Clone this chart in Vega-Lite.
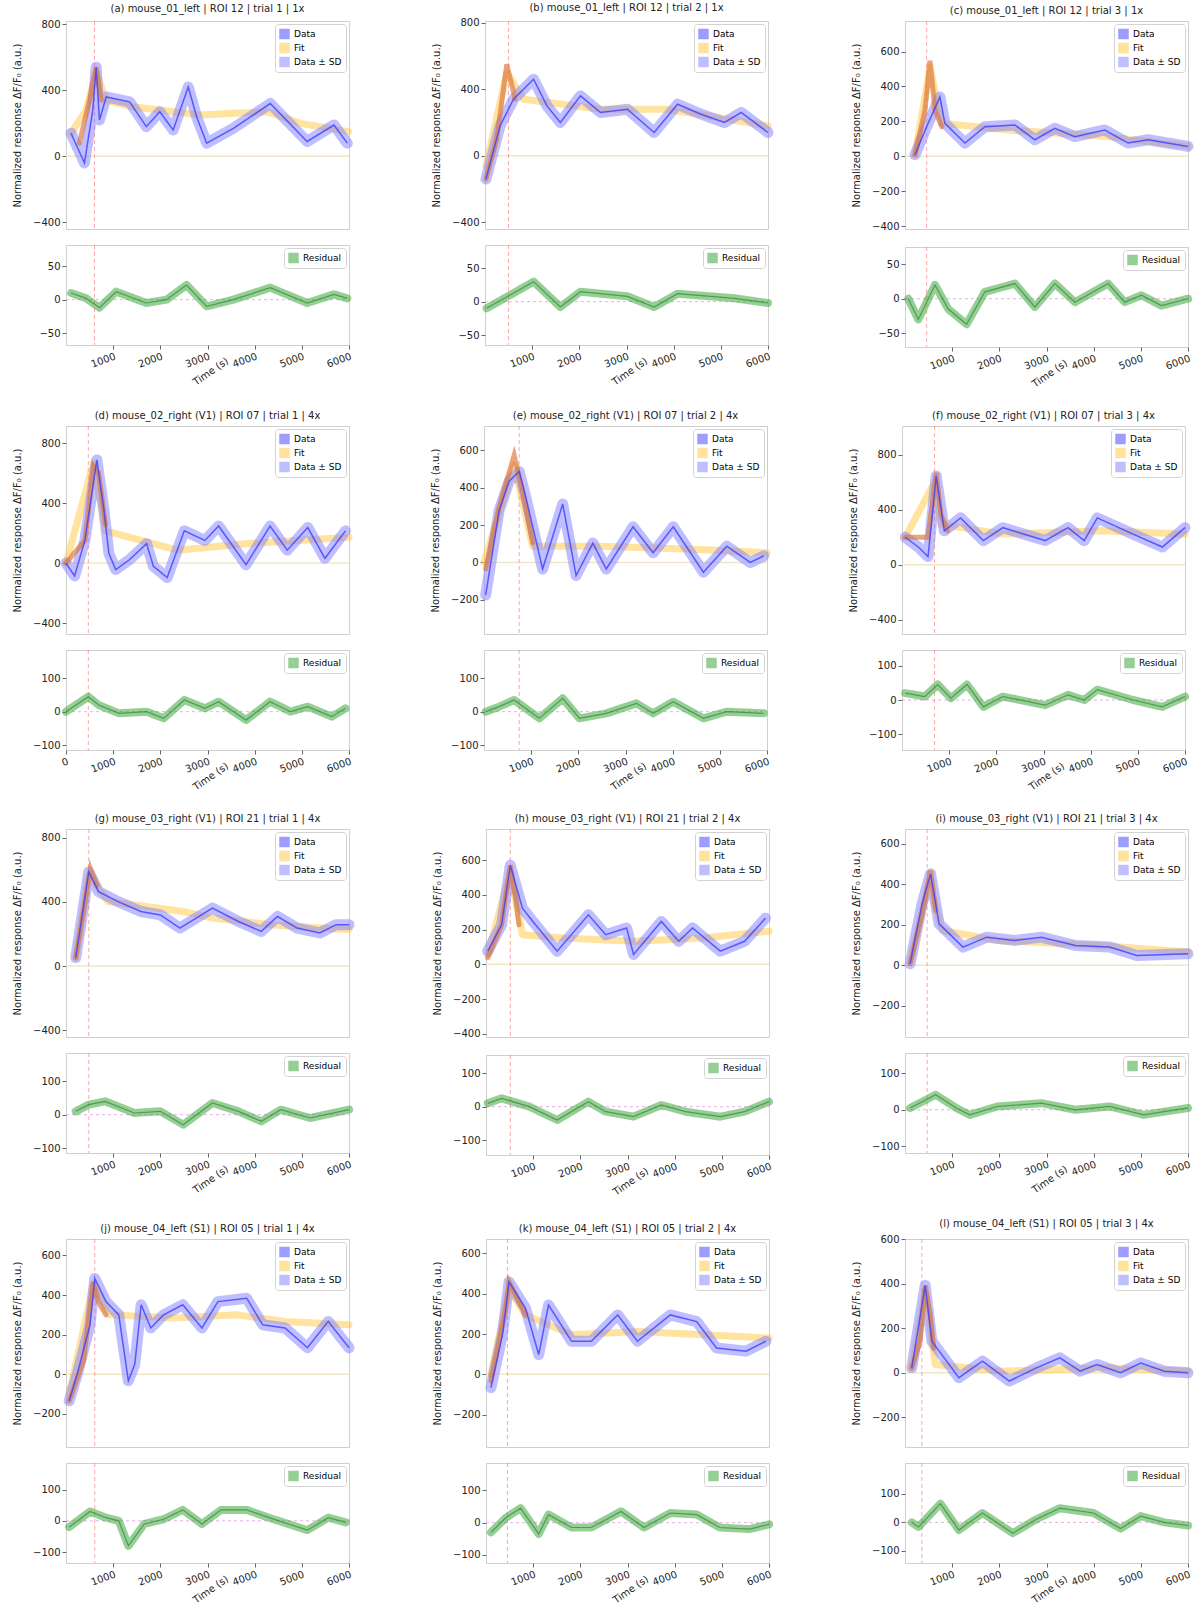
{
"$schema":"https://vega.github.io/schema/vega-lite/v6.json",
"padding":{"left":11,"top":2,"right":0,"bottom":0},
"config":{"font":"DejaVu Sans","view":{"stroke":"#cfcfcf"},
"axis":{"labelFontSize":10,"labelColor":"#222","tickColor":"#666","tickSize":4,"domain":false,"grid":false,"titleFontSize":10,"titleFontWeight":"normal","titleColor":"#222"},
"axisY":{"minExtent":42,"maxExtent":42,"titlePadding":2},
"title":{"fontSize":10,"fontWeight":"normal","color":"#222","offset":5},
"legend":{"orient":"top-right","symbolType":"square","symbolSize":30,"symbolStrokeWidth":5,"labelFontSize":9,"fillColor":"#ffffff","strokeColor":"#d3d3d3","padding":4,"cornerRadius":3,"offset":3,"rowPadding":2,"clipHeight":12}},
"datasets":{"d":[
{"p":1,"s":"evt","t":604,"v":0},
{"p":1,"s":"obs","t":107,"v":140},{"p":1,"s":"obs","t":391,"v":-40},{"p":1,"s":"obs","t":568,"v":280},{"p":1,"s":"obs","t":639,"v":540},{"p":1,"s":"obs","t":710,"v":220},{"p":1,"s":"obs","t":852,"v":360},{"p":1,"s":"obs","t":1349,"v":330},{"p":1,"s":"obs","t":1704,"v":180},{"p":1,"s":"obs","t":1988,"v":270},{"p":1,"s":"obs","t":2272,"v":160},{"p":1,"s":"obs","t":2592,"v":420},{"p":1,"s":"obs","t":2769,"v":240},{"p":1,"s":"obs","t":2982,"v":80},{"p":1,"s":"obs","t":3550,"v":170},{"p":1,"s":"obs","t":4331,"v":320},{"p":1,"s":"obs","t":5112,"v":90},{"p":1,"s":"obs","t":5680,"v":190},{"p":1,"s":"obs","t":5964,"v":80},
{"p":1,"s":"fit","t":107,"v":140},{"p":1,"s":"fit","t":426,"v":280},{"p":1,"s":"fit","t":639,"v":510},{"p":1,"s":"fit","t":852,"v":340},{"p":1,"s":"fit","t":1420,"v":300},{"p":1,"s":"fit","t":2840,"v":250},{"p":1,"s":"fit","t":4260,"v":270},{"p":1,"s":"fit","t":4970,"v":200},{"p":1,"s":"fit","t":5990,"v":150},
{"p":1,"s":"rise","t":284,"v":80},{"p":1,"s":"rise","t":497,"v":340},{"p":1,"s":"rise","t":639,"v":540},{"p":1,"s":"rise","t":746,"v":340},
{"p":1,"s":"res","t":107,"v":10},{"p":1,"s":"res","t":426,"v":2},{"p":1,"s":"res","t":710,"v":-12},{"p":1,"s":"res","t":1065,"v":12},{"p":1,"s":"res","t":1704,"v":-5},{"p":1,"s":"res","t":2130,"v":0},{"p":1,"s":"res","t":2556,"v":22},{"p":1,"s":"res","t":2982,"v":-10},{"p":1,"s":"res","t":3550,"v":0},{"p":1,"s":"res","t":4331,"v":18},{"p":1,"s":"res","t":5112,"v":-5},{"p":1,"s":"res","t":5680,"v":8},{"p":1,"s":"res","t":5964,"v":2},
{"p":2,"s":"evt","t":497,"v":0},
{"p":2,"s":"obs","t":21,"v":-140},{"p":2,"s":"obs","t":320,"v":180},{"p":2,"s":"obs","t":604,"v":340},{"p":2,"s":"obs","t":1030,"v":460},{"p":2,"s":"obs","t":1314,"v":300},{"p":2,"s":"obs","t":1598,"v":200},{"p":2,"s":"obs","t":2024,"v":360},{"p":2,"s":"obs","t":2450,"v":260},{"p":2,"s":"obs","t":3018,"v":280},{"p":2,"s":"obs","t":3586,"v":140},{"p":2,"s":"obs","t":4083,"v":310},{"p":2,"s":"obs","t":4580,"v":250},{"p":2,"s":"obs","t":5077,"v":200},{"p":2,"s":"obs","t":5432,"v":260},{"p":2,"s":"obs","t":6000,"v":140},
{"p":2,"s":"fit","t":21,"v":-60},{"p":2,"s":"fit","t":462,"v":500},{"p":2,"s":"fit","t":817,"v":340},{"p":2,"s":"fit","t":2450,"v":280},{"p":2,"s":"fit","t":3870,"v":280},{"p":2,"s":"fit","t":6000,"v":180},
{"p":2,"s":"rise","t":21,"v":-140},{"p":2,"s":"rise","t":249,"v":100},{"p":2,"s":"rise","t":462,"v":550},{"p":2,"s":"rise","t":639,"v":340},
{"p":2,"s":"res","t":36,"v":-10},{"p":2,"s":"res","t":533,"v":10},{"p":2,"s":"res","t":1030,"v":30},{"p":2,"s":"res","t":1598,"v":-8},{"p":2,"s":"res","t":2024,"v":15},{"p":2,"s":"res","t":3018,"v":8},{"p":2,"s":"res","t":3586,"v":-8},{"p":2,"s":"res","t":4083,"v":12},{"p":2,"s":"res","t":5290,"v":5},{"p":2,"s":"res","t":6000,"v":-2},
{"p":3,"s":"evt","t":459,"v":0},
{"p":3,"s":"obs","t":212,"v":9},{"p":3,"s":"obs","t":459,"v":170},{"p":3,"s":"obs","t":741,"v":340},{"p":3,"s":"obs","t":847,"v":189},{"p":3,"s":"obs","t":1271,"v":76},{"p":3,"s":"obs","t":1694,"v":170},{"p":3,"s":"obs","t":2330,"v":180},{"p":3,"s":"obs","t":2753,"v":95},{"p":3,"s":"obs","t":3177,"v":161},{"p":3,"s":"obs","t":3601,"v":113},{"p":3,"s":"obs","t":4236,"v":151},{"p":3,"s":"obs","t":4730,"v":76},{"p":3,"s":"obs","t":5154,"v":95},{"p":3,"s":"obs","t":6000,"v":57},
{"p":3,"s":"fit","t":212,"v":9},{"p":3,"s":"fit","t":530,"v":510},{"p":3,"s":"fit","t":777,"v":189},{"p":3,"s":"fit","t":2189,"v":151},{"p":3,"s":"fit","t":4307,"v":113},{"p":3,"s":"fit","t":6000,"v":57},
{"p":3,"s":"rise","t":212,"v":9},{"p":3,"s":"rise","t":424,"v":265},{"p":3,"s":"rise","t":530,"v":548},{"p":3,"s":"rise","t":635,"v":265},{"p":3,"s":"rise","t":777,"v":170},
{"p":3,"s":"res","t":71,"v":0},{"p":3,"s":"res","t":282,"v":-30},{"p":3,"s":"res","t":635,"v":20},{"p":3,"s":"res","t":918,"v":-15},{"p":3,"s":"res","t":1306,"v":-37},{"p":3,"s":"res","t":1694,"v":10},{"p":3,"s":"res","t":2330,"v":22},{"p":3,"s":"res","t":2753,"v":-12},{"p":3,"s":"res","t":3177,"v":22},{"p":3,"s":"res","t":3601,"v":-5},{"p":3,"s":"res","t":4307,"v":22},{"p":3,"s":"res","t":4659,"v":-5},{"p":3,"s":"res","t":5013,"v":5},{"p":3,"s":"res","t":5436,"v":-10},{"p":3,"s":"res","t":6000,"v":0},
{"p":4,"s":"evt","t":473,"v":0},
{"p":4,"s":"obs","t":0,"v":0},{"p":4,"s":"obs","t":182,"v":-86},{"p":4,"s":"obs","t":400,"v":151},{"p":4,"s":"obs","t":654,"v":688},{"p":4,"s":"obs","t":800,"v":366},{"p":4,"s":"obs","t":909,"v":65},{"p":4,"s":"obs","t":1054,"v":-43},{"p":4,"s":"obs","t":1345,"v":22},{"p":4,"s":"obs","t":1709,"v":129},{"p":4,"s":"obs","t":1854,"v":-22},{"p":4,"s":"obs","t":2145,"v":-97},{"p":4,"s":"obs","t":2508,"v":215},{"p":4,"s":"obs","t":2945,"v":151},{"p":4,"s":"obs","t":3236,"v":247},{"p":4,"s":"obs","t":3817,"v":-11},{"p":4,"s":"obs","t":4326,"v":247},{"p":4,"s":"obs","t":4690,"v":86},{"p":4,"s":"obs","t":5126,"v":237},{"p":4,"s":"obs","t":5490,"v":32},{"p":4,"s":"obs","t":5925,"v":215},
{"p":4,"s":"fit","t":0,"v":0},{"p":4,"s":"fit","t":582,"v":667},{"p":4,"s":"fit","t":836,"v":215},{"p":4,"s":"fit","t":2363,"v":86},{"p":4,"s":"fit","t":3817,"v":129},{"p":4,"s":"fit","t":6000,"v":172},
{"p":4,"s":"rise","t":0,"v":0},{"p":4,"s":"rise","t":400,"v":151},{"p":4,"s":"rise","t":582,"v":645},{"p":4,"s":"rise","t":691,"v":602},{"p":4,"s":"rise","t":836,"v":258},
{"p":4,"s":"res","t":0,"v":0},{"p":4,"s":"res","t":473,"v":45},{"p":4,"s":"res","t":691,"v":20},{"p":4,"s":"res","t":1127,"v":-5},{"p":4,"s":"res","t":1709,"v":0},{"p":4,"s":"res","t":2072,"v":-20},{"p":4,"s":"res","t":2508,"v":35},{"p":4,"s":"res","t":2945,"v":10},{"p":4,"s":"res","t":3236,"v":30},{"p":4,"s":"res","t":3817,"v":-25},{"p":4,"s":"res","t":4326,"v":30},{"p":4,"s":"res","t":4762,"v":0},{"p":4,"s":"res","t":5126,"v":15},{"p":4,"s":"res","t":5635,"v":-15},{"p":4,"s":"res","t":5925,"v":10},
{"p":5,"s":"evt","t":746,"v":0},
{"p":5,"s":"obs","t":36,"v":-174},{"p":5,"s":"obs","t":320,"v":278},{"p":5,"s":"obs","t":533,"v":435},{"p":5,"s":"obs","t":746,"v":487},{"p":5,"s":"obs","t":888,"v":348},{"p":5,"s":"obs","t":1243,"v":-35},{"p":5,"s":"obs","t":1669,"v":313},{"p":5,"s":"obs","t":1953,"v":-70},{"p":5,"s":"obs","t":2308,"v":104},{"p":5,"s":"obs","t":2592,"v":-35},{"p":5,"s":"obs","t":3160,"v":191},{"p":5,"s":"obs","t":3586,"v":52},{"p":5,"s":"obs","t":4012,"v":191},{"p":5,"s":"obs","t":4651,"v":-52},{"p":5,"s":"obs","t":5148,"v":87},{"p":5,"s":"obs","t":5645,"v":0},{"p":5,"s":"obs","t":5929,"v":35},
{"p":5,"s":"fit","t":0,"v":0},{"p":5,"s":"fit","t":639,"v":522},{"p":5,"s":"fit","t":1030,"v":87},{"p":5,"s":"fit","t":2450,"v":87},{"p":5,"s":"fit","t":4580,"v":70},{"p":5,"s":"fit","t":6000,"v":52},
{"p":5,"s":"rise","t":36,"v":-35},{"p":5,"s":"rise","t":320,"v":296},{"p":5,"s":"rise","t":639,"v":574},{"p":5,"s":"rise","t":817,"v":383},{"p":5,"s":"rise","t":1030,"v":104},
{"p":5,"s":"res","t":36,"v":0},{"p":5,"s":"res","t":320,"v":15},{"p":5,"s":"res","t":639,"v":35},{"p":5,"s":"res","t":1172,"v":-20},{"p":5,"s":"res","t":1669,"v":40},{"p":5,"s":"res","t":2024,"v":-20},{"p":5,"s":"res","t":2592,"v":-5},{"p":5,"s":"res","t":3231,"v":25},{"p":5,"s":"res","t":3586,"v":-5},{"p":5,"s":"res","t":4012,"v":30},{"p":5,"s":"res","t":4651,"v":-20},{"p":5,"s":"res","t":5148,"v":0},{"p":5,"s":"res","t":5929,"v":-5},
{"p":6,"s":"evt","t":690,"v":0},
{"p":6,"s":"obs","t":69,"v":200},{"p":6,"s":"obs","t":345,"v":129},{"p":6,"s":"obs","t":552,"v":59},{"p":6,"s":"obs","t":725,"v":646},{"p":6,"s":"obs","t":897,"v":247},{"p":6,"s":"obs","t":1242,"v":341},{"p":6,"s":"obs","t":1725,"v":176},{"p":6,"s":"obs","t":2139,"v":270},{"p":6,"s":"obs","t":3036,"v":176},{"p":6,"s":"obs","t":3519,"v":270},{"p":6,"s":"obs","t":3864,"v":176},{"p":6,"s":"obs","t":4140,"v":341},{"p":6,"s":"obs","t":4899,"v":223},{"p":6,"s":"obs","t":5520,"v":129},{"p":6,"s":"obs","t":6000,"v":270},
{"p":6,"s":"fit","t":69,"v":200},{"p":6,"s":"fit","t":690,"v":600},{"p":6,"s":"fit","t":828,"v":294},{"p":6,"s":"fit","t":2139,"v":223},{"p":6,"s":"fit","t":4209,"v":247},{"p":6,"s":"fit","t":6000,"v":223},
{"p":6,"s":"rise","t":69,"v":200},{"p":6,"s":"rise","t":552,"v":200},{"p":6,"s":"rise","t":656,"v":482},{"p":6,"s":"rise","t":725,"v":670},{"p":6,"s":"rise","t":828,"v":364},{"p":6,"s":"rise","t":966,"v":247},
{"p":6,"s":"res","t":69,"v":20},{"p":6,"s":"res","t":483,"v":10},{"p":6,"s":"res","t":759,"v":45},{"p":6,"s":"res","t":1035,"v":5},{"p":6,"s":"res","t":1380,"v":45},{"p":6,"s":"res","t":1725,"v":-20},{"p":6,"s":"res","t":2139,"v":10},{"p":6,"s":"res","t":3036,"v":-15},{"p":6,"s":"res","t":3519,"v":15},{"p":6,"s":"res","t":3864,"v":0},{"p":6,"s":"res","t":4140,"v":30},{"p":6,"s":"res","t":4899,"v":0},{"p":6,"s":"res","t":5520,"v":-20},{"p":6,"s":"res","t":6000,"v":10},
{"p":7,"s":"evt","t":483,"v":0},
{"p":7,"s":"obs","t":207,"v":52},{"p":7,"s":"obs","t":483,"v":587},{"p":7,"s":"obs","t":690,"v":464},{"p":7,"s":"obs","t":1104,"v":402},{"p":7,"s":"obs","t":1587,"v":340},{"p":7,"s":"obs","t":2001,"v":319},{"p":7,"s":"obs","t":2415,"v":237},{"p":7,"s":"obs","t":3105,"v":361},{"p":7,"s":"obs","t":3657,"v":278},{"p":7,"s":"obs","t":4140,"v":216},{"p":7,"s":"obs","t":4485,"v":309},{"p":7,"s":"obs","t":4899,"v":237},{"p":7,"s":"obs","t":5382,"v":206},{"p":7,"s":"obs","t":5727,"v":258},{"p":7,"s":"obs","t":6000,"v":258},
{"p":7,"s":"fit","t":207,"v":52},{"p":7,"s":"fit","t":483,"v":567},{"p":7,"s":"fit","t":897,"v":402},{"p":7,"s":"fit","t":2484,"v":340},{"p":7,"s":"fit","t":3105,"v":299},{"p":7,"s":"fit","t":4347,"v":258},{"p":7,"s":"fit","t":6000,"v":227},
{"p":7,"s":"rise","t":207,"v":52},{"p":7,"s":"rise","t":414,"v":422},{"p":7,"s":"rise","t":518,"v":608},{"p":7,"s":"rise","t":656,"v":505},
{"p":7,"s":"res","t":207,"v":10},{"p":7,"s":"res","t":483,"v":30},{"p":7,"s":"res","t":828,"v":40},{"p":7,"s":"res","t":1449,"v":5},{"p":7,"s":"res","t":2001,"v":10},{"p":7,"s":"res","t":2484,"v":-30},{"p":7,"s":"res","t":3105,"v":35},{"p":7,"s":"res","t":3657,"v":10},{"p":7,"s":"res","t":4140,"v":-20},{"p":7,"s":"res","t":4554,"v":15},{"p":7,"s":"res","t":5175,"v":-10},{"p":7,"s":"res","t":6000,"v":15},
{"p":8,"s":"evt","t":515,"v":0},
{"p":8,"s":"obs","t":37,"v":76},{"p":8,"s":"obs","t":331,"v":228},{"p":8,"s":"obs","t":515,"v":570},{"p":8,"s":"obs","t":773,"v":323},{"p":8,"s":"obs","t":994,"v":247},{"p":8,"s":"obs","t":1509,"v":76},{"p":8,"s":"obs","t":2171,"v":285},{"p":8,"s":"obs","t":2539,"v":171},{"p":8,"s":"obs","t":2981,"v":209},{"p":8,"s":"obs","t":3128,"v":57},{"p":8,"s":"obs","t":3717,"v":247},{"p":8,"s":"obs","t":4085,"v":133},{"p":8,"s":"obs","t":4379,"v":209},{"p":8,"s":"obs","t":4968,"v":76},{"p":8,"s":"obs","t":5483,"v":133},{"p":8,"s":"obs","t":5925,"v":266},
{"p":8,"s":"fit","t":37,"v":57},{"p":8,"s":"fit","t":515,"v":532},{"p":8,"s":"fit","t":773,"v":171},{"p":8,"s":"fit","t":1656,"v":152},{"p":8,"s":"fit","t":3128,"v":133},{"p":8,"s":"fit","t":4600,"v":152},{"p":8,"s":"fit","t":6000,"v":190},
{"p":8,"s":"rise","t":37,"v":38},{"p":8,"s":"rise","t":331,"v":228},{"p":8,"s":"rise","t":515,"v":570},{"p":8,"s":"rise","t":626,"v":380},{"p":8,"s":"rise","t":700,"v":228},
{"p":8,"s":"res","t":37,"v":10},{"p":8,"s":"res","t":331,"v":25},{"p":8,"s":"res","t":920,"v":0},{"p":8,"s":"res","t":1509,"v":-40},{"p":8,"s":"res","t":2171,"v":15},{"p":8,"s":"res","t":2539,"v":-15},{"p":8,"s":"res","t":3128,"v":-30},{"p":8,"s":"res","t":3717,"v":5},{"p":8,"s":"res","t":4232,"v":-15},{"p":8,"s":"res","t":4968,"v":-30},{"p":8,"s":"res","t":5483,"v":-15},{"p":8,"s":"res","t":6000,"v":15},
{"p":9,"s":"evt","t":470,"v":0},
{"p":9,"s":"obs","t":108,"v":8},{"p":9,"s":"obs","t":362,"v":303},{"p":9,"s":"obs","t":542,"v":451},{"p":9,"s":"obs","t":723,"v":205},{"p":9,"s":"obs","t":1229,"v":90},{"p":9,"s":"obs","t":1735,"v":139},{"p":9,"s":"obs","t":2314,"v":123},{"p":9,"s":"obs","t":2892,"v":139},{"p":9,"s":"obs","t":3615,"v":98},{"p":9,"s":"obs","t":4338,"v":90},{"p":9,"s":"obs","t":4916,"v":49},{"p":9,"s":"obs","t":6000,"v":57},
{"p":9,"s":"fit","t":108,"v":16},{"p":9,"s":"fit","t":506,"v":402},{"p":9,"s":"fit","t":795,"v":172},{"p":9,"s":"fit","t":1952,"v":123},{"p":9,"s":"fit","t":4121,"v":98},{"p":9,"s":"fit","t":6000,"v":66},
{"p":9,"s":"rise","t":108,"v":8},{"p":9,"s":"rise","t":362,"v":254},{"p":9,"s":"rise","t":542,"v":467},{"p":9,"s":"rise","t":651,"v":271},
{"p":9,"s":"res","t":108,"v":5},{"p":9,"s":"res","t":651,"v":41},{"p":9,"s":"res","t":1085,"v":5},{"p":9,"s":"res","t":1374,"v":-14},{"p":9,"s":"res","t":1952,"v":9},{"p":9,"s":"res","t":2892,"v":18},{"p":9,"s":"res","t":3615,"v":0},{"p":9,"s":"res","t":4338,"v":9},{"p":9,"s":"res","t":5061,"v":-14},{"p":9,"s":"res","t":6000,"v":5},
{"p":10,"s":"evt","t":610,"v":0},
{"p":10,"s":"obs","t":68,"v":-134},{"p":10,"s":"obs","t":237,"v":0},{"p":10,"s":"obs","t":509,"v":250},{"p":10,"s":"obs","t":610,"v":484},{"p":10,"s":"obs","t":848,"v":367},{"p":10,"s":"obs","t":1119,"v":300},{"p":10,"s":"obs","t":1322,"v":-33},{"p":10,"s":"obs","t":1458,"v":50},{"p":10,"s":"obs","t":1593,"v":351},{"p":10,"s":"obs","t":1797,"v":234},{"p":10,"s":"obs","t":2068,"v":300},{"p":10,"s":"obs","t":2475,"v":351},{"p":10,"s":"obs","t":2882,"v":234},{"p":10,"s":"obs","t":3221,"v":367},{"p":10,"s":"obs","t":3831,"v":384},{"p":10,"s":"obs","t":4170,"v":250},{"p":10,"s":"obs","t":4644,"v":234},{"p":10,"s":"obs","t":5119,"v":134},{"p":10,"s":"obs","t":5560,"v":267},{"p":10,"s":"obs","t":6000,"v":134},
{"p":10,"s":"fit","t":68,"v":-100},{"p":10,"s":"fit","t":576,"v":451},{"p":10,"s":"fit","t":915,"v":300},{"p":10,"s":"fit","t":2271,"v":284},{"p":10,"s":"fit","t":3627,"v":300},{"p":10,"s":"fit","t":4644,"v":267},{"p":10,"s":"fit","t":6000,"v":250},
{"p":10,"s":"rise","t":68,"v":-134},{"p":10,"s":"rise","t":373,"v":67},{"p":10,"s":"rise","t":576,"v":467},{"p":10,"s":"rise","t":678,"v":367},{"p":10,"s":"rise","t":848,"v":300},
{"p":10,"s":"res","t":68,"v":-20},{"p":10,"s":"res","t":509,"v":30},{"p":10,"s":"res","t":848,"v":10},{"p":10,"s":"res","t":1119,"v":0},{"p":10,"s":"res","t":1322,"v":-80},{"p":10,"s":"res","t":1661,"v":-10},{"p":10,"s":"res","t":2068,"v":5},{"p":10,"s":"res","t":2475,"v":35},{"p":10,"s":"res","t":2882,"v":-10},{"p":10,"s":"res","t":3288,"v":35},{"p":10,"s":"res","t":3831,"v":35},{"p":10,"s":"res","t":4305,"v":10},{"p":10,"s":"res","t":5119,"v":-30},{"p":10,"s":"res","t":5560,"v":10},{"p":10,"s":"res","t":5932,"v":-5},
{"p":11,"s":"evt","t":454,"v":0},
{"p":11,"s":"obs","t":105,"v":-66},{"p":11,"s":"obs","t":349,"v":197},{"p":11,"s":"obs","t":489,"v":459},{"p":11,"s":"obs","t":838,"v":328},{"p":11,"s":"obs","t":1117,"v":98},{"p":11,"s":"obs","t":1326,"v":344},{"p":11,"s":"obs","t":1815,"v":164},{"p":11,"s":"obs","t":2233,"v":164},{"p":11,"s":"obs","t":2792,"v":295},{"p":11,"s":"obs","t":3210,"v":164},{"p":11,"s":"obs","t":3908,"v":295},{"p":11,"s":"obs","t":4467,"v":262},{"p":11,"s":"obs","t":4886,"v":131},{"p":11,"s":"obs","t":5514,"v":115},{"p":11,"s":"obs","t":5933,"v":164},
{"p":11,"s":"fit","t":105,"v":0},{"p":11,"s":"fit","t":489,"v":426},{"p":11,"s":"fit","t":838,"v":295},{"p":11,"s":"fit","t":1815,"v":197},{"p":11,"s":"fit","t":3210,"v":213},{"p":11,"s":"fit","t":4606,"v":197},{"p":11,"s":"fit","t":6000,"v":180},
{"p":11,"s":"rise","t":105,"v":-33},{"p":11,"s":"rise","t":419,"v":328},{"p":11,"s":"rise","t":489,"v":459},{"p":11,"s":"rise","t":628,"v":394},{"p":11,"s":"rise","t":838,"v":295},
{"p":11,"s":"res","t":105,"v":-30},{"p":11,"s":"res","t":419,"v":15},{"p":11,"s":"res","t":733,"v":45},{"p":11,"s":"res","t":1117,"v":-35},{"p":11,"s":"res","t":1326,"v":25},{"p":11,"s":"res","t":1815,"v":-15},{"p":11,"s":"res","t":2233,"v":-15},{"p":11,"s":"res","t":2862,"v":35},{"p":11,"s":"res","t":3350,"v":-15},{"p":11,"s":"res","t":3908,"v":30},{"p":11,"s":"res","t":4467,"v":25},{"p":11,"s":"res","t":4956,"v":-15},{"p":11,"s":"res","t":5584,"v":-20},{"p":11,"s":"res","t":6000,"v":-5},
{"p":12,"s":"evt","t":357,"v":0},
{"p":12,"s":"obs","t":143,"v":22},{"p":12,"s":"obs","t":428,"v":392},{"p":12,"s":"obs","t":571,"v":141},{"p":12,"s":"obs","t":1142,"v":-22},{"p":12,"s":"obs","t":1642,"v":52},{"p":12,"s":"obs","t":2213,"v":-37},{"p":12,"s":"obs","t":2785,"v":22},{"p":12,"s":"obs","t":3284,"v":67},{"p":12,"s":"obs","t":3712,"v":7},{"p":12,"s":"obs","t":4070,"v":37},{"p":12,"s":"obs","t":4570,"v":0},{"p":12,"s":"obs","t":4998,"v":44},{"p":12,"s":"obs","t":5498,"v":7},{"p":12,"s":"obs","t":6000,"v":0},
{"p":12,"s":"fit","t":143,"v":22},{"p":12,"s":"fit","t":428,"v":363},{"p":12,"s":"fit","t":643,"v":37},{"p":12,"s":"fit","t":2071,"v":7},{"p":12,"s":"fit","t":4284,"v":22},{"p":12,"s":"fit","t":6000,"v":7},
{"p":12,"s":"rise","t":143,"v":22},{"p":12,"s":"rise","t":321,"v":141},{"p":12,"s":"rise","t":428,"v":392},{"p":12,"s":"rise","t":535,"v":259},{"p":12,"s":"rise","t":607,"v":111},
{"p":12,"s":"res","t":143,"v":0},{"p":12,"s":"res","t":286,"v":-16},{"p":12,"s":"res","t":750,"v":66},{"p":12,"s":"res","t":1142,"v":-27},{"p":12,"s":"res","t":1642,"v":33},{"p":12,"s":"res","t":2285,"v":-38},{"p":12,"s":"res","t":2785,"v":11},{"p":12,"s":"res","t":3284,"v":50},{"p":12,"s":"res","t":3998,"v":33},{"p":12,"s":"res","t":4570,"v":-22},{"p":12,"s":"res","t":4998,"v":22},{"p":12,"s":"res","t":5498,"v":0},{"p":12,"s":"res","t":6000,"v":-11}
]},
"data":{"name":"d"},
"spacing":20,
"resolve":{"scale":{"color":"independent"},"legend":{"color":"independent"}},
"vconcat":[
{"hconcat":[
{"vconcat":[
{"width":283,"height":208,"title":"(a) mouse_01_left | ROI 12 | trial 1 | 1x","encoding":{"x":{"field":"t","type":"quantitative","scale":{"domain":[0,6000],"nice":false,"zero":false},"axis":null}},"layer":[
{"transform":[{"filter":"datum.p==1&&datum.s=='evt'"}],"mark":{"type":"rule","color":"#efe7c6","strokeWidth":1.5},"encoding":{"x":{"datum":0},"x2":{"datum":6000},"y":{"datum":0,"type":"quantitative","scale":{"domain":[-440,820],"nice":false,"zero":false}}}},
{"transform":[{"filter":"datum.p==1&&datum.s=='evt'"}],"mark":{"type":"rule","color":"#ff6b6b","strokeDash":[4,3],"strokeWidth":1,"opacity":0.6},"encoding":{}},
{"transform":[{"filter":"datum.p==1&&datum.s=='fit'"}],"mark":{"type":"line","strokeWidth":7,"opacity":0.5,"strokeCap":"round","strokeJoin":"round"},"encoding":{"y":{"field":"v","type":"quantitative","scale":{"domain":[-440,820],"nice":false,"zero":false},"axis":{"values":[-400,-200,0,200,400,600,800],"title":"Normalized response ΔF/F₀ (a.u.)"}},"color":{"datum":"Fit","scale":{"domain":["Data","Fit","Data ± SD"],"range":["#3d3dff","#ffc83d","#8080ff"]},"legend":{"title":null,"encode":{"symbols":{"update":{"strokeWidth":{"value":5},"opacity":{"value":0.6}}}}}}}},
{"transform":[{"filter":"datum.p==1&&datum.s=='obs'"}],"mark":{"type":"line","strokeWidth":11,"opacity":0.5,"strokeCap":"round","strokeJoin":"round"},"encoding":{"y":{"field":"v","type":"quantitative"},"color":{"datum":"Data ± SD"}}},
{"transform":[{"filter":"datum.p==1&&datum.s=='rise'"}],"mark":{"type":"line","strokeWidth":5,"color":"#d9733a","opacity":0.65,"strokeCap":"round"},"encoding":{"y":{"field":"v","type":"quantitative"}}},
{"transform":[{"filter":"datum.p==1&&datum.s=='obs'"}],"mark":{"type":"line","strokeWidth":1.5,"opacity":0.8},"encoding":{"y":{"field":"v","type":"quantitative"},"color":{"datum":"Data"}}}
]},
{"width":283,"height":100,"encoding":{"x":{"field":"t","type":"quantitative","scale":{"domain":[0,6000],"nice":false,"zero":false},"axis":{"values":[1000,2000,3000,4000,5000,6000],"format":"d","labelAngle":-20,"labelAlign":"right","title":"Time (s)","titleAngle":-35,"titlePadding":-2}}},"layer":[
{"transform":[{"filter":"datum.p==1&&datum.s=='evt'"}],"mark":{"type":"rule","color":"#e6b0e6","strokeDash":[3,3],"strokeWidth":1},"encoding":{"x":{"datum":0},"x2":{"datum":6000},"y":{"datum":0,"type":"quantitative","scale":{"domain":[-68,82],"nice":false,"zero":false}}}},
{"transform":[{"filter":"datum.p==1&&datum.s=='evt'"}],"mark":{"type":"rule","color":"#ff6b6b","strokeDash":[4,3],"strokeWidth":1,"opacity":0.6},"encoding":{}},
{"transform":[{"filter":"datum.p==1&&datum.s=='res'"}],"mark":{"type":"line","strokeWidth":8,"opacity":0.55,"strokeCap":"round","strokeJoin":"round"},"encoding":{"y":{"field":"v","type":"quantitative","scale":{"domain":[-68,82],"nice":false,"zero":false},"axis":{"values":[-50,0,50],"title":null}},"color":{"datum":"Residual","scale":{"domain":["Residual"],"range":["#3fa83f"]},"legend":{"title":null,"encode":{"symbols":{"update":{"strokeWidth":{"value":5},"opacity":{"value":0.6}}}}}}}},
{"transform":[{"filter":"datum.p==1&&datum.s=='res'"}],"mark":{"type":"line","strokeWidth":1.2,"color":"#1e7a1e","opacity":0.6},"encoding":{"y":{"field":"v","type":"quantitative"}}}
]}
],"spacing":14,"resolve":{"scale":{"color":"independent"},"legend":{"color":"independent"}}},
{"vconcat":[
{"width":283,"height":208,"title":"(b) mouse_01_left | ROI 12 | trial 2 | 1x","encoding":{"x":{"field":"t","type":"quantitative","scale":{"domain":[0,6000],"nice":false,"zero":false},"axis":null}},"layer":[
{"transform":[{"filter":"datum.p==2&&datum.s=='evt'"}],"mark":{"type":"rule","color":"#efe7c6","strokeWidth":1.5},"encoding":{"x":{"datum":0},"x2":{"datum":6000},"y":{"datum":0,"type":"quantitative","scale":{"domain":[-440,810],"nice":false,"zero":false}}}},
{"transform":[{"filter":"datum.p==2&&datum.s=='evt'"}],"mark":{"type":"rule","color":"#ff6b6b","strokeDash":[4,3],"strokeWidth":1,"opacity":0.6},"encoding":{}},
{"transform":[{"filter":"datum.p==2&&datum.s=='fit'"}],"mark":{"type":"line","strokeWidth":7,"opacity":0.5,"strokeCap":"round","strokeJoin":"round"},"encoding":{"y":{"field":"v","type":"quantitative","scale":{"domain":[-440,810],"nice":false,"zero":false},"axis":{"values":[-400,-200,0,200,400,600,800],"title":"Normalized response ΔF/F₀ (a.u.)"}},"color":{"datum":"Fit","scale":{"domain":["Data","Fit","Data ± SD"],"range":["#3d3dff","#ffc83d","#8080ff"]},"legend":{"title":null,"encode":{"symbols":{"update":{"strokeWidth":{"value":5},"opacity":{"value":0.6}}}}}}}},
{"transform":[{"filter":"datum.p==2&&datum.s=='obs'"}],"mark":{"type":"line","strokeWidth":11,"opacity":0.5,"strokeCap":"round","strokeJoin":"round"},"encoding":{"y":{"field":"v","type":"quantitative"},"color":{"datum":"Data ± SD"}}},
{"transform":[{"filter":"datum.p==2&&datum.s=='rise'"}],"mark":{"type":"line","strokeWidth":5,"color":"#d9733a","opacity":0.65,"strokeCap":"round"},"encoding":{"y":{"field":"v","type":"quantitative"}}},
{"transform":[{"filter":"datum.p==2&&datum.s=='obs'"}],"mark":{"type":"line","strokeWidth":1.5,"opacity":0.8},"encoding":{"y":{"field":"v","type":"quantitative"},"color":{"datum":"Data"}}}
]},
{"width":283,"height":100,"encoding":{"x":{"field":"t","type":"quantitative","scale":{"domain":[0,6000],"nice":false,"zero":false},"axis":{"values":[1000,2000,3000,4000,5000,6000],"format":"d","labelAngle":-20,"labelAlign":"right","title":"Time (s)","titleAngle":-35,"titlePadding":-2}}},"layer":[
{"transform":[{"filter":"datum.p==2&&datum.s=='evt'"}],"mark":{"type":"rule","color":"#e6b0e6","strokeDash":[3,3],"strokeWidth":1},"encoding":{"x":{"datum":0},"x2":{"datum":6000},"y":{"datum":0,"type":"quantitative","scale":{"domain":[-65,85],"nice":false,"zero":false}}}},
{"transform":[{"filter":"datum.p==2&&datum.s=='evt'"}],"mark":{"type":"rule","color":"#ff6b6b","strokeDash":[4,3],"strokeWidth":1,"opacity":0.6},"encoding":{}},
{"transform":[{"filter":"datum.p==2&&datum.s=='res'"}],"mark":{"type":"line","strokeWidth":8,"opacity":0.55,"strokeCap":"round","strokeJoin":"round"},"encoding":{"y":{"field":"v","type":"quantitative","scale":{"domain":[-65,85],"nice":false,"zero":false},"axis":{"values":[-50,0,50],"title":null}},"color":{"datum":"Residual","scale":{"domain":["Residual"],"range":["#3fa83f"]},"legend":{"title":null,"encode":{"symbols":{"update":{"strokeWidth":{"value":5},"opacity":{"value":0.6}}}}}}}},
{"transform":[{"filter":"datum.p==2&&datum.s=='res'"}],"mark":{"type":"line","strokeWidth":1.2,"color":"#1e7a1e","opacity":0.6},"encoding":{"y":{"field":"v","type":"quantitative"}}}
]}
],"spacing":14,"resolve":{"scale":{"color":"independent"},"legend":{"color":"independent"}}},
{"vconcat":[
{"width":283,"height":208,"title":"(c) mouse_01_left | ROI 12 | trial 3 | 1x","encoding":{"x":{"field":"t","type":"quantitative","scale":{"domain":[0,6000],"nice":false,"zero":false},"axis":null}},"layer":[
{"transform":[{"filter":"datum.p==3&&datum.s=='evt'"}],"mark":{"type":"rule","color":"#efe7c6","strokeWidth":1.5},"encoding":{"x":{"datum":0},"x2":{"datum":6000},"y":{"datum":0,"type":"quantitative","scale":{"domain":[-416,775],"nice":false,"zero":false}}}},
{"transform":[{"filter":"datum.p==3&&datum.s=='evt'"}],"mark":{"type":"rule","color":"#ff6b6b","strokeDash":[4,3],"strokeWidth":1,"opacity":0.6},"encoding":{}},
{"transform":[{"filter":"datum.p==3&&datum.s=='fit'"}],"mark":{"type":"line","strokeWidth":7,"opacity":0.5,"strokeCap":"round","strokeJoin":"round"},"encoding":{"y":{"field":"v","type":"quantitative","scale":{"domain":[-416,775],"nice":false,"zero":false},"axis":{"values":[-400,-200,0,200,400,600],"title":"Normalized response ΔF/F₀ (a.u.)"}},"color":{"datum":"Fit","scale":{"domain":["Data","Fit","Data ± SD"],"range":["#3d3dff","#ffc83d","#8080ff"]},"legend":{"title":null,"encode":{"symbols":{"update":{"strokeWidth":{"value":5},"opacity":{"value":0.6}}}}}}}},
{"transform":[{"filter":"datum.p==3&&datum.s=='obs'"}],"mark":{"type":"line","strokeWidth":11,"opacity":0.5,"strokeCap":"round","strokeJoin":"round"},"encoding":{"y":{"field":"v","type":"quantitative"},"color":{"datum":"Data ± SD"}}},
{"transform":[{"filter":"datum.p==3&&datum.s=='rise'"}],"mark":{"type":"line","strokeWidth":5,"color":"#d9733a","opacity":0.65,"strokeCap":"round"},"encoding":{"y":{"field":"v","type":"quantitative"}}},
{"transform":[{"filter":"datum.p==3&&datum.s=='obs'"}],"mark":{"type":"line","strokeWidth":1.5,"opacity":0.8},"encoding":{"y":{"field":"v","type":"quantitative"},"color":{"datum":"Data"}}}
]},
{"width":283,"height":100,"encoding":{"x":{"field":"t","type":"quantitative","scale":{"domain":[0,6000],"nice":false,"zero":false},"axis":{"values":[1000,2000,3000,4000,5000,6000],"format":"d","labelAngle":-20,"labelAlign":"right","title":"Time (s)","titleAngle":-35,"titlePadding":-2}}},"layer":[
{"transform":[{"filter":"datum.p==3&&datum.s=='evt'"}],"mark":{"type":"rule","color":"#e6b0e6","strokeDash":[3,3],"strokeWidth":1},"encoding":{"x":{"datum":0},"x2":{"datum":6000},"y":{"datum":0,"type":"quantitative","scale":{"domain":[-70,75],"nice":false,"zero":false}}}},
{"transform":[{"filter":"datum.p==3&&datum.s=='evt'"}],"mark":{"type":"rule","color":"#ff6b6b","strokeDash":[4,3],"strokeWidth":1,"opacity":0.6},"encoding":{}},
{"transform":[{"filter":"datum.p==3&&datum.s=='res'"}],"mark":{"type":"line","strokeWidth":8,"opacity":0.55,"strokeCap":"round","strokeJoin":"round"},"encoding":{"y":{"field":"v","type":"quantitative","scale":{"domain":[-70,75],"nice":false,"zero":false},"axis":{"values":[-50,0,50],"title":null}},"color":{"datum":"Residual","scale":{"domain":["Residual"],"range":["#3fa83f"]},"legend":{"title":null,"encode":{"symbols":{"update":{"strokeWidth":{"value":5},"opacity":{"value":0.6}}}}}}}},
{"transform":[{"filter":"datum.p==3&&datum.s=='res'"}],"mark":{"type":"line","strokeWidth":1.2,"color":"#1e7a1e","opacity":0.6},"encoding":{"y":{"field":"v","type":"quantitative"}}}
]}
],"spacing":14,"resolve":{"scale":{"color":"independent"},"legend":{"color":"independent"}}}
],"spacing":76,"resolve":{"scale":{"color":"independent"},"legend":{"color":"independent"}}},
{"hconcat":[
{"vconcat":[
{"width":283,"height":208,"title":"(d) mouse_02_right (V1) | ROI 07 | trial 1 | 4x","encoding":{"x":{"field":"t","type":"quantitative","scale":{"domain":[0,6000],"nice":false,"zero":false},"axis":null}},"layer":[
{"transform":[{"filter":"datum.p==4&&datum.s=='evt'"}],"mark":{"type":"rule","color":"#efe7c6","strokeWidth":1.5},"encoding":{"x":{"datum":0},"x2":{"datum":6000},"y":{"datum":0,"type":"quantitative","scale":{"domain":[-473,914],"nice":false,"zero":false}}}},
{"transform":[{"filter":"datum.p==4&&datum.s=='evt'"}],"mark":{"type":"rule","color":"#ff6b6b","strokeDash":[4,3],"strokeWidth":1,"opacity":0.6},"encoding":{}},
{"transform":[{"filter":"datum.p==4&&datum.s=='fit'"}],"mark":{"type":"line","strokeWidth":7,"opacity":0.5,"strokeCap":"round","strokeJoin":"round"},"encoding":{"y":{"field":"v","type":"quantitative","scale":{"domain":[-473,914],"nice":false,"zero":false},"axis":{"values":[-400,-200,0,200,400,600,800],"title":"Normalized response ΔF/F₀ (a.u.)"}},"color":{"datum":"Fit","scale":{"domain":["Data","Fit","Data ± SD"],"range":["#3d3dff","#ffc83d","#8080ff"]},"legend":{"title":null,"encode":{"symbols":{"update":{"strokeWidth":{"value":5},"opacity":{"value":0.6}}}}}}}},
{"transform":[{"filter":"datum.p==4&&datum.s=='obs'"}],"mark":{"type":"line","strokeWidth":11,"opacity":0.5,"strokeCap":"round","strokeJoin":"round"},"encoding":{"y":{"field":"v","type":"quantitative"},"color":{"datum":"Data ± SD"}}},
{"transform":[{"filter":"datum.p==4&&datum.s=='rise'"}],"mark":{"type":"line","strokeWidth":5,"color":"#d9733a","opacity":0.65,"strokeCap":"round"},"encoding":{"y":{"field":"v","type":"quantitative"}}},
{"transform":[{"filter":"datum.p==4&&datum.s=='obs'"}],"mark":{"type":"line","strokeWidth":1.5,"opacity":0.8},"encoding":{"y":{"field":"v","type":"quantitative"},"color":{"datum":"Data"}}}
]},
{"width":283,"height":100,"encoding":{"x":{"field":"t","type":"quantitative","scale":{"domain":[0,6000],"nice":false,"zero":false},"axis":{"values":[0,1000,2000,3000,4000,5000,6000],"format":"d","labelAngle":-20,"labelAlign":"right","title":"Time (s)","titleAngle":-35,"titlePadding":-2}}},"layer":[
{"transform":[{"filter":"datum.p==4&&datum.s=='evt'"}],"mark":{"type":"rule","color":"#e6b0e6","strokeDash":[3,3],"strokeWidth":1},"encoding":{"x":{"datum":0},"x2":{"datum":6000},"y":{"datum":0,"type":"quantitative","scale":{"domain":[-115,185],"nice":false,"zero":false}}}},
{"transform":[{"filter":"datum.p==4&&datum.s=='evt'"}],"mark":{"type":"rule","color":"#ff6b6b","strokeDash":[4,3],"strokeWidth":1,"opacity":0.6},"encoding":{}},
{"transform":[{"filter":"datum.p==4&&datum.s=='res'"}],"mark":{"type":"line","strokeWidth":8,"opacity":0.55,"strokeCap":"round","strokeJoin":"round"},"encoding":{"y":{"field":"v","type":"quantitative","scale":{"domain":[-115,185],"nice":false,"zero":false},"axis":{"values":[-100,0,100],"title":null}},"color":{"datum":"Residual","scale":{"domain":["Residual"],"range":["#3fa83f"]},"legend":{"title":null,"encode":{"symbols":{"update":{"strokeWidth":{"value":5},"opacity":{"value":0.6}}}}}}}},
{"transform":[{"filter":"datum.p==4&&datum.s=='res'"}],"mark":{"type":"line","strokeWidth":1.2,"color":"#1e7a1e","opacity":0.6},"encoding":{"y":{"field":"v","type":"quantitative"}}}
]}
],"spacing":14,"resolve":{"scale":{"color":"independent"},"legend":{"color":"independent"}}},
{"vconcat":[
{"width":283,"height":208,"title":"(e) mouse_02_right (V1) | ROI 07 | trial 2 | 4x","encoding":{"x":{"field":"t","type":"quantitative","scale":{"domain":[0,6000],"nice":false,"zero":false},"axis":null}},"layer":[
{"transform":[{"filter":"datum.p==5&&datum.s=='evt'"}],"mark":{"type":"rule","color":"#efe7c6","strokeWidth":1.5},"encoding":{"x":{"datum":0},"x2":{"datum":6000},"y":{"datum":0,"type":"quantitative","scale":{"domain":[-383,731],"nice":false,"zero":false}}}},
{"transform":[{"filter":"datum.p==5&&datum.s=='evt'"}],"mark":{"type":"rule","color":"#ff6b6b","strokeDash":[4,3],"strokeWidth":1,"opacity":0.6},"encoding":{}},
{"transform":[{"filter":"datum.p==5&&datum.s=='fit'"}],"mark":{"type":"line","strokeWidth":7,"opacity":0.5,"strokeCap":"round","strokeJoin":"round"},"encoding":{"y":{"field":"v","type":"quantitative","scale":{"domain":[-383,731],"nice":false,"zero":false},"axis":{"values":[-200,0,200,400,600],"title":"Normalized response ΔF/F₀ (a.u.)"}},"color":{"datum":"Fit","scale":{"domain":["Data","Fit","Data ± SD"],"range":["#3d3dff","#ffc83d","#8080ff"]},"legend":{"title":null,"encode":{"symbols":{"update":{"strokeWidth":{"value":5},"opacity":{"value":0.6}}}}}}}},
{"transform":[{"filter":"datum.p==5&&datum.s=='obs'"}],"mark":{"type":"line","strokeWidth":11,"opacity":0.5,"strokeCap":"round","strokeJoin":"round"},"encoding":{"y":{"field":"v","type":"quantitative"},"color":{"datum":"Data ± SD"}}},
{"transform":[{"filter":"datum.p==5&&datum.s=='rise'"}],"mark":{"type":"line","strokeWidth":5,"color":"#d9733a","opacity":0.65,"strokeCap":"round"},"encoding":{"y":{"field":"v","type":"quantitative"}}},
{"transform":[{"filter":"datum.p==5&&datum.s=='obs'"}],"mark":{"type":"line","strokeWidth":1.5,"opacity":0.8},"encoding":{"y":{"field":"v","type":"quantitative"},"color":{"datum":"Data"}}}
]},
{"width":283,"height":100,"encoding":{"x":{"field":"t","type":"quantitative","scale":{"domain":[0,6000],"nice":false,"zero":false},"axis":{"values":[1000,2000,3000,4000,5000,6000],"format":"d","labelAngle":-20,"labelAlign":"right","title":"Time (s)","titleAngle":-35,"titlePadding":-2}}},"layer":[
{"transform":[{"filter":"datum.p==5&&datum.s=='evt'"}],"mark":{"type":"rule","color":"#e6b0e6","strokeDash":[3,3],"strokeWidth":1},"encoding":{"x":{"datum":0},"x2":{"datum":6000},"y":{"datum":0,"type":"quantitative","scale":{"domain":[-115,185],"nice":false,"zero":false}}}},
{"transform":[{"filter":"datum.p==5&&datum.s=='evt'"}],"mark":{"type":"rule","color":"#ff6b6b","strokeDash":[4,3],"strokeWidth":1,"opacity":0.6},"encoding":{}},
{"transform":[{"filter":"datum.p==5&&datum.s=='res'"}],"mark":{"type":"line","strokeWidth":8,"opacity":0.55,"strokeCap":"round","strokeJoin":"round"},"encoding":{"y":{"field":"v","type":"quantitative","scale":{"domain":[-115,185],"nice":false,"zero":false},"axis":{"values":[-100,0,100],"title":null}},"color":{"datum":"Residual","scale":{"domain":["Residual"],"range":["#3fa83f"]},"legend":{"title":null,"encode":{"symbols":{"update":{"strokeWidth":{"value":5},"opacity":{"value":0.6}}}}}}}},
{"transform":[{"filter":"datum.p==5&&datum.s=='res'"}],"mark":{"type":"line","strokeWidth":1.2,"color":"#1e7a1e","opacity":0.6},"encoding":{"y":{"field":"v","type":"quantitative"}}}
]}
],"spacing":14,"resolve":{"scale":{"color":"independent"},"legend":{"color":"independent"}}},
{"vconcat":[
{"width":283,"height":208,"title":"(f) mouse_02_right (V1) | ROI 07 | trial 3 | 4x","encoding":{"x":{"field":"t","type":"quantitative","scale":{"domain":[0,6000],"nice":false,"zero":false},"axis":null}},"layer":[
{"transform":[{"filter":"datum.p==6&&datum.s=='evt'"}],"mark":{"type":"rule","color":"#efe7c6","strokeWidth":1.5},"encoding":{"x":{"datum":0},"x2":{"datum":6000},"y":{"datum":0,"type":"quantitative","scale":{"domain":[-505,1011],"nice":false,"zero":false}}}},
{"transform":[{"filter":"datum.p==6&&datum.s=='evt'"}],"mark":{"type":"rule","color":"#ff6b6b","strokeDash":[4,3],"strokeWidth":1,"opacity":0.6},"encoding":{}},
{"transform":[{"filter":"datum.p==6&&datum.s=='fit'"}],"mark":{"type":"line","strokeWidth":7,"opacity":0.5,"strokeCap":"round","strokeJoin":"round"},"encoding":{"y":{"field":"v","type":"quantitative","scale":{"domain":[-505,1011],"nice":false,"zero":false},"axis":{"values":[-400,-200,0,200,400,600,800,1000],"title":"Normalized response ΔF/F₀ (a.u.)"}},"color":{"datum":"Fit","scale":{"domain":["Data","Fit","Data ± SD"],"range":["#3d3dff","#ffc83d","#8080ff"]},"legend":{"title":null,"encode":{"symbols":{"update":{"strokeWidth":{"value":5},"opacity":{"value":0.6}}}}}}}},
{"transform":[{"filter":"datum.p==6&&datum.s=='obs'"}],"mark":{"type":"line","strokeWidth":11,"opacity":0.5,"strokeCap":"round","strokeJoin":"round"},"encoding":{"y":{"field":"v","type":"quantitative"},"color":{"datum":"Data ± SD"}}},
{"transform":[{"filter":"datum.p==6&&datum.s=='rise'"}],"mark":{"type":"line","strokeWidth":5,"color":"#d9733a","opacity":0.65,"strokeCap":"round"},"encoding":{"y":{"field":"v","type":"quantitative"}}},
{"transform":[{"filter":"datum.p==6&&datum.s=='obs'"}],"mark":{"type":"line","strokeWidth":1.5,"opacity":0.8},"encoding":{"y":{"field":"v","type":"quantitative"},"color":{"datum":"Data"}}}
]},
{"width":283,"height":100,"encoding":{"x":{"field":"t","type":"quantitative","scale":{"domain":[0,6000],"nice":false,"zero":false},"axis":{"values":[1000,2000,3000,4000,5000,6000],"format":"d","labelAngle":-20,"labelAlign":"right","title":"Time (s)","titleAngle":-35,"titlePadding":-2}}},"layer":[
{"transform":[{"filter":"datum.p==6&&datum.s=='evt'"}],"mark":{"type":"rule","color":"#e6b0e6","strokeDash":[3,3],"strokeWidth":1},"encoding":{"x":{"datum":0},"x2":{"datum":6000},"y":{"datum":0,"type":"quantitative","scale":{"domain":[-145,145],"nice":false,"zero":false}}}},
{"transform":[{"filter":"datum.p==6&&datum.s=='evt'"}],"mark":{"type":"rule","color":"#ff6b6b","strokeDash":[4,3],"strokeWidth":1,"opacity":0.6},"encoding":{}},
{"transform":[{"filter":"datum.p==6&&datum.s=='res'"}],"mark":{"type":"line","strokeWidth":8,"opacity":0.55,"strokeCap":"round","strokeJoin":"round"},"encoding":{"y":{"field":"v","type":"quantitative","scale":{"domain":[-145,145],"nice":false,"zero":false},"axis":{"values":[-100,0,100],"title":null}},"color":{"datum":"Residual","scale":{"domain":["Residual"],"range":["#3fa83f"]},"legend":{"title":null,"encode":{"symbols":{"update":{"strokeWidth":{"value":5},"opacity":{"value":0.6}}}}}}}},
{"transform":[{"filter":"datum.p==6&&datum.s=='res'"}],"mark":{"type":"line","strokeWidth":1.2,"color":"#1e7a1e","opacity":0.6},"encoding":{"y":{"field":"v","type":"quantitative"}}}
]}
],"spacing":14,"resolve":{"scale":{"color":"independent"},"legend":{"color":"independent"}}}
],"spacing":76,"resolve":{"scale":{"color":"independent"},"legend":{"color":"independent"}}},
{"hconcat":[
{"vconcat":[
{"width":283,"height":208,"title":"(g) mouse_03_right (V1) | ROI 21 | trial 1 | 4x","encoding":{"x":{"field":"t","type":"quantitative","scale":{"domain":[0,6000],"nice":false,"zero":false},"axis":null}},"layer":[
{"transform":[{"filter":"datum.p==7&&datum.s=='evt'"}],"mark":{"type":"rule","color":"#efe7c6","strokeWidth":1.5},"encoding":{"x":{"datum":0},"x2":{"datum":6000},"y":{"datum":0,"type":"quantitative","scale":{"domain":[-443,855],"nice":false,"zero":false}}}},
{"transform":[{"filter":"datum.p==7&&datum.s=='evt'"}],"mark":{"type":"rule","color":"#ff6b6b","strokeDash":[4,3],"strokeWidth":1,"opacity":0.6},"encoding":{}},
{"transform":[{"filter":"datum.p==7&&datum.s=='fit'"}],"mark":{"type":"line","strokeWidth":7,"opacity":0.5,"strokeCap":"round","strokeJoin":"round"},"encoding":{"y":{"field":"v","type":"quantitative","scale":{"domain":[-443,855],"nice":false,"zero":false},"axis":{"values":[-400,-200,0,200,400,600,800],"title":"Normalized response ΔF/F₀ (a.u.)"}},"color":{"datum":"Fit","scale":{"domain":["Data","Fit","Data ± SD"],"range":["#3d3dff","#ffc83d","#8080ff"]},"legend":{"title":null,"encode":{"symbols":{"update":{"strokeWidth":{"value":5},"opacity":{"value":0.6}}}}}}}},
{"transform":[{"filter":"datum.p==7&&datum.s=='obs'"}],"mark":{"type":"line","strokeWidth":11,"opacity":0.5,"strokeCap":"round","strokeJoin":"round"},"encoding":{"y":{"field":"v","type":"quantitative"},"color":{"datum":"Data ± SD"}}},
{"transform":[{"filter":"datum.p==7&&datum.s=='rise'"}],"mark":{"type":"line","strokeWidth":5,"color":"#d9733a","opacity":0.65,"strokeCap":"round"},"encoding":{"y":{"field":"v","type":"quantitative"}}},
{"transform":[{"filter":"datum.p==7&&datum.s=='obs'"}],"mark":{"type":"line","strokeWidth":1.5,"opacity":0.8},"encoding":{"y":{"field":"v","type":"quantitative"},"color":{"datum":"Data"}}}
]},
{"width":283,"height":100,"encoding":{"x":{"field":"t","type":"quantitative","scale":{"domain":[0,6000],"nice":false,"zero":false},"axis":{"values":[1000,2000,3000,4000,5000,6000],"format":"d","labelAngle":-20,"labelAlign":"right","title":"Time (s)","titleAngle":-35,"titlePadding":-2}}},"layer":[
{"transform":[{"filter":"datum.p==7&&datum.s=='evt'"}],"mark":{"type":"rule","color":"#e6b0e6","strokeDash":[3,3],"strokeWidth":1},"encoding":{"x":{"datum":0},"x2":{"datum":6000},"y":{"datum":0,"type":"quantitative","scale":{"domain":[-115,185],"nice":false,"zero":false}}}},
{"transform":[{"filter":"datum.p==7&&datum.s=='evt'"}],"mark":{"type":"rule","color":"#ff6b6b","strokeDash":[4,3],"strokeWidth":1,"opacity":0.6},"encoding":{}},
{"transform":[{"filter":"datum.p==7&&datum.s=='res'"}],"mark":{"type":"line","strokeWidth":8,"opacity":0.55,"strokeCap":"round","strokeJoin":"round"},"encoding":{"y":{"field":"v","type":"quantitative","scale":{"domain":[-115,185],"nice":false,"zero":false},"axis":{"values":[-100,0,100],"title":null}},"color":{"datum":"Residual","scale":{"domain":["Residual"],"range":["#3fa83f"]},"legend":{"title":null,"encode":{"symbols":{"update":{"strokeWidth":{"value":5},"opacity":{"value":0.6}}}}}}}},
{"transform":[{"filter":"datum.p==7&&datum.s=='res'"}],"mark":{"type":"line","strokeWidth":1.2,"color":"#1e7a1e","opacity":0.6},"encoding":{"y":{"field":"v","type":"quantitative"}}}
]}
],"spacing":14,"resolve":{"scale":{"color":"independent"},"legend":{"color":"independent"}}},
{"vconcat":[
{"width":283,"height":208,"title":"(h) mouse_03_right (V1) | ROI 21 | trial 2 | 4x","encoding":{"x":{"field":"t","type":"quantitative","scale":{"domain":[0,6000],"nice":false,"zero":false},"axis":null}},"layer":[
{"transform":[{"filter":"datum.p==8&&datum.s=='evt'"}],"mark":{"type":"rule","color":"#efe7c6","strokeWidth":1.5},"encoding":{"x":{"datum":0},"x2":{"datum":6000},"y":{"datum":0,"type":"quantitative","scale":{"domain":[-418,779],"nice":false,"zero":false}}}},
{"transform":[{"filter":"datum.p==8&&datum.s=='evt'"}],"mark":{"type":"rule","color":"#ff6b6b","strokeDash":[4,3],"strokeWidth":1,"opacity":0.6},"encoding":{}},
{"transform":[{"filter":"datum.p==8&&datum.s=='fit'"}],"mark":{"type":"line","strokeWidth":7,"opacity":0.5,"strokeCap":"round","strokeJoin":"round"},"encoding":{"y":{"field":"v","type":"quantitative","scale":{"domain":[-418,779],"nice":false,"zero":false},"axis":{"values":[-400,-200,0,200,400,600],"title":"Normalized response ΔF/F₀ (a.u.)"}},"color":{"datum":"Fit","scale":{"domain":["Data","Fit","Data ± SD"],"range":["#3d3dff","#ffc83d","#8080ff"]},"legend":{"title":null,"encode":{"symbols":{"update":{"strokeWidth":{"value":5},"opacity":{"value":0.6}}}}}}}},
{"transform":[{"filter":"datum.p==8&&datum.s=='obs'"}],"mark":{"type":"line","strokeWidth":11,"opacity":0.5,"strokeCap":"round","strokeJoin":"round"},"encoding":{"y":{"field":"v","type":"quantitative"},"color":{"datum":"Data ± SD"}}},
{"transform":[{"filter":"datum.p==8&&datum.s=='rise'"}],"mark":{"type":"line","strokeWidth":5,"color":"#d9733a","opacity":0.65,"strokeCap":"round"},"encoding":{"y":{"field":"v","type":"quantitative"}}},
{"transform":[{"filter":"datum.p==8&&datum.s=='obs'"}],"mark":{"type":"line","strokeWidth":1.5,"opacity":0.8},"encoding":{"y":{"field":"v","type":"quantitative"},"color":{"datum":"Data"}}}
]},
{"width":283,"height":100,"encoding":{"x":{"field":"t","type":"quantitative","scale":{"domain":[0,6000],"nice":false,"zero":false},"axis":{"values":[1000,2000,3000,4000,5000,6000],"format":"d","labelAngle":-20,"labelAlign":"right","title":"Time (s)","titleAngle":-35,"titlePadding":-2}}},"layer":[
{"transform":[{"filter":"datum.p==8&&datum.s=='evt'"}],"mark":{"type":"rule","color":"#e6b0e6","strokeDash":[3,3],"strokeWidth":1},"encoding":{"x":{"datum":0},"x2":{"datum":6000},"y":{"datum":0,"type":"quantitative","scale":{"domain":[-145,155],"nice":false,"zero":false}}}},
{"transform":[{"filter":"datum.p==8&&datum.s=='evt'"}],"mark":{"type":"rule","color":"#ff6b6b","strokeDash":[4,3],"strokeWidth":1,"opacity":0.6},"encoding":{}},
{"transform":[{"filter":"datum.p==8&&datum.s=='res'"}],"mark":{"type":"line","strokeWidth":8,"opacity":0.55,"strokeCap":"round","strokeJoin":"round"},"encoding":{"y":{"field":"v","type":"quantitative","scale":{"domain":[-145,155],"nice":false,"zero":false},"axis":{"values":[-100,0,100],"title":null}},"color":{"datum":"Residual","scale":{"domain":["Residual"],"range":["#3fa83f"]},"legend":{"title":null,"encode":{"symbols":{"update":{"strokeWidth":{"value":5},"opacity":{"value":0.6}}}}}}}},
{"transform":[{"filter":"datum.p==8&&datum.s=='res'"}],"mark":{"type":"line","strokeWidth":1.2,"color":"#1e7a1e","opacity":0.6},"encoding":{"y":{"field":"v","type":"quantitative"}}}
]}
],"spacing":14,"resolve":{"scale":{"color":"independent"},"legend":{"color":"independent"}}},
{"vconcat":[
{"width":283,"height":208,"title":"(i) mouse_03_right (V1) | ROI 21 | trial 3 | 4x","encoding":{"x":{"field":"t","type":"quantitative","scale":{"domain":[0,6000],"nice":false,"zero":false},"axis":null}},"layer":[
{"transform":[{"filter":"datum.p==9&&datum.s=='evt'"}],"mark":{"type":"rule","color":"#efe7c6","strokeWidth":1.5},"encoding":{"x":{"datum":0},"x2":{"datum":6000},"y":{"datum":0,"type":"quantitative","scale":{"domain":[-353,672],"nice":false,"zero":false}}}},
{"transform":[{"filter":"datum.p==9&&datum.s=='evt'"}],"mark":{"type":"rule","color":"#ff6b6b","strokeDash":[4,3],"strokeWidth":1,"opacity":0.6},"encoding":{}},
{"transform":[{"filter":"datum.p==9&&datum.s=='fit'"}],"mark":{"type":"line","strokeWidth":7,"opacity":0.5,"strokeCap":"round","strokeJoin":"round"},"encoding":{"y":{"field":"v","type":"quantitative","scale":{"domain":[-353,672],"nice":false,"zero":false},"axis":{"values":[-200,0,200,400,600],"title":"Normalized response ΔF/F₀ (a.u.)"}},"color":{"datum":"Fit","scale":{"domain":["Data","Fit","Data ± SD"],"range":["#3d3dff","#ffc83d","#8080ff"]},"legend":{"title":null,"encode":{"symbols":{"update":{"strokeWidth":{"value":5},"opacity":{"value":0.6}}}}}}}},
{"transform":[{"filter":"datum.p==9&&datum.s=='obs'"}],"mark":{"type":"line","strokeWidth":11,"opacity":0.5,"strokeCap":"round","strokeJoin":"round"},"encoding":{"y":{"field":"v","type":"quantitative"},"color":{"datum":"Data ± SD"}}},
{"transform":[{"filter":"datum.p==9&&datum.s=='rise'"}],"mark":{"type":"line","strokeWidth":5,"color":"#d9733a","opacity":0.65,"strokeCap":"round"},"encoding":{"y":{"field":"v","type":"quantitative"}}},
{"transform":[{"filter":"datum.p==9&&datum.s=='obs'"}],"mark":{"type":"line","strokeWidth":1.5,"opacity":0.8},"encoding":{"y":{"field":"v","type":"quantitative"},"color":{"datum":"Data"}}}
]},
{"width":283,"height":100,"encoding":{"x":{"field":"t","type":"quantitative","scale":{"domain":[0,6000],"nice":false,"zero":false},"axis":{"values":[1000,2000,3000,4000,5000,6000],"format":"d","labelAngle":-20,"labelAlign":"right","title":"Time (s)","titleAngle":-35,"titlePadding":-2}}},"layer":[
{"transform":[{"filter":"datum.p==9&&datum.s=='evt'"}],"mark":{"type":"rule","color":"#e6b0e6","strokeDash":[3,3],"strokeWidth":1},"encoding":{"x":{"datum":0},"x2":{"datum":6000},"y":{"datum":0,"type":"quantitative","scale":{"domain":[-118,155],"nice":false,"zero":false}}}},
{"transform":[{"filter":"datum.p==9&&datum.s=='evt'"}],"mark":{"type":"rule","color":"#ff6b6b","strokeDash":[4,3],"strokeWidth":1,"opacity":0.6},"encoding":{}},
{"transform":[{"filter":"datum.p==9&&datum.s=='res'"}],"mark":{"type":"line","strokeWidth":8,"opacity":0.55,"strokeCap":"round","strokeJoin":"round"},"encoding":{"y":{"field":"v","type":"quantitative","scale":{"domain":[-118,155],"nice":false,"zero":false},"axis":{"values":[-100,0,100],"title":null}},"color":{"datum":"Residual","scale":{"domain":["Residual"],"range":["#3fa83f"]},"legend":{"title":null,"encode":{"symbols":{"update":{"strokeWidth":{"value":5},"opacity":{"value":0.6}}}}}}}},
{"transform":[{"filter":"datum.p==9&&datum.s=='res'"}],"mark":{"type":"line","strokeWidth":1.2,"color":"#1e7a1e","opacity":0.6},"encoding":{"y":{"field":"v","type":"quantitative"}}}
]}
],"spacing":14,"resolve":{"scale":{"color":"independent"},"legend":{"color":"independent"}}}
],"spacing":76,"resolve":{"scale":{"color":"independent"},"legend":{"color":"independent"}}},
{"hconcat":[
{"vconcat":[
{"width":283,"height":208,"title":"(j) mouse_04_left (S1) | ROI 05 | trial 1 | 4x","encoding":{"x":{"field":"t","type":"quantitative","scale":{"domain":[0,6000],"nice":false,"zero":false},"axis":null}},"layer":[
{"transform":[{"filter":"datum.p==10&&datum.s=='evt'"}],"mark":{"type":"rule","color":"#efe7c6","strokeWidth":1.5},"encoding":{"x":{"datum":0},"x2":{"datum":6000},"y":{"datum":0,"type":"quantitative","scale":{"domain":[-367,683],"nice":false,"zero":false}}}},
{"transform":[{"filter":"datum.p==10&&datum.s=='evt'"}],"mark":{"type":"rule","color":"#ff6b6b","strokeDash":[4,3],"strokeWidth":1,"opacity":0.6},"encoding":{}},
{"transform":[{"filter":"datum.p==10&&datum.s=='fit'"}],"mark":{"type":"line","strokeWidth":7,"opacity":0.5,"strokeCap":"round","strokeJoin":"round"},"encoding":{"y":{"field":"v","type":"quantitative","scale":{"domain":[-367,683],"nice":false,"zero":false},"axis":{"values":[-200,0,200,400,600],"title":"Normalized response ΔF/F₀ (a.u.)"}},"color":{"datum":"Fit","scale":{"domain":["Data","Fit","Data ± SD"],"range":["#3d3dff","#ffc83d","#8080ff"]},"legend":{"title":null,"encode":{"symbols":{"update":{"strokeWidth":{"value":5},"opacity":{"value":0.6}}}}}}}},
{"transform":[{"filter":"datum.p==10&&datum.s=='obs'"}],"mark":{"type":"line","strokeWidth":11,"opacity":0.5,"strokeCap":"round","strokeJoin":"round"},"encoding":{"y":{"field":"v","type":"quantitative"},"color":{"datum":"Data ± SD"}}},
{"transform":[{"filter":"datum.p==10&&datum.s=='rise'"}],"mark":{"type":"line","strokeWidth":5,"color":"#d9733a","opacity":0.65,"strokeCap":"round"},"encoding":{"y":{"field":"v","type":"quantitative"}}},
{"transform":[{"filter":"datum.p==10&&datum.s=='obs'"}],"mark":{"type":"line","strokeWidth":1.5,"opacity":0.8},"encoding":{"y":{"field":"v","type":"quantitative"},"color":{"datum":"Data"}}}
]},
{"width":283,"height":100,"encoding":{"x":{"field":"t","type":"quantitative","scale":{"domain":[0,6000],"nice":false,"zero":false},"axis":{"values":[1000,2000,3000,4000,5000,6000],"format":"d","labelAngle":-20,"labelAlign":"right","title":"Time (s)","titleAngle":-35,"titlePadding":-2}}},"layer":[
{"transform":[{"filter":"datum.p==10&&datum.s=='evt'"}],"mark":{"type":"rule","color":"#e6b0e6","strokeDash":[3,3],"strokeWidth":1},"encoding":{"x":{"datum":0},"x2":{"datum":6000},"y":{"datum":0,"type":"quantitative","scale":{"domain":[-135,185],"nice":false,"zero":false}}}},
{"transform":[{"filter":"datum.p==10&&datum.s=='evt'"}],"mark":{"type":"rule","color":"#ff6b6b","strokeDash":[4,3],"strokeWidth":1,"opacity":0.6},"encoding":{}},
{"transform":[{"filter":"datum.p==10&&datum.s=='res'"}],"mark":{"type":"line","strokeWidth":8,"opacity":0.55,"strokeCap":"round","strokeJoin":"round"},"encoding":{"y":{"field":"v","type":"quantitative","scale":{"domain":[-135,185],"nice":false,"zero":false},"axis":{"values":[-100,0,100],"title":null}},"color":{"datum":"Residual","scale":{"domain":["Residual"],"range":["#3fa83f"]},"legend":{"title":null,"encode":{"symbols":{"update":{"strokeWidth":{"value":5},"opacity":{"value":0.6}}}}}}}},
{"transform":[{"filter":"datum.p==10&&datum.s=='res'"}],"mark":{"type":"line","strokeWidth":1.2,"color":"#1e7a1e","opacity":0.6},"encoding":{"y":{"field":"v","type":"quantitative"}}}
]}
],"spacing":14,"resolve":{"scale":{"color":"independent"},"legend":{"color":"independent"}}},
{"vconcat":[
{"width":283,"height":208,"title":"(k) mouse_04_left (S1) | ROI 05 | trial 2 | 4x","encoding":{"x":{"field":"t","type":"quantitative","scale":{"domain":[0,6000],"nice":false,"zero":false},"axis":null}},"layer":[
{"transform":[{"filter":"datum.p==11&&datum.s=='evt'"}],"mark":{"type":"rule","color":"#efe7c6","strokeWidth":1.5},"encoding":{"x":{"datum":0},"x2":{"datum":6000},"y":{"datum":0,"type":"quantitative","scale":{"domain":[-361,672],"nice":false,"zero":false}}}},
{"transform":[{"filter":"datum.p==11&&datum.s=='evt'"}],"mark":{"type":"rule","color":"#ff6b6b","strokeDash":[4,3],"strokeWidth":1,"opacity":0.6},"encoding":{}},
{"transform":[{"filter":"datum.p==11&&datum.s=='fit'"}],"mark":{"type":"line","strokeWidth":7,"opacity":0.5,"strokeCap":"round","strokeJoin":"round"},"encoding":{"y":{"field":"v","type":"quantitative","scale":{"domain":[-361,672],"nice":false,"zero":false},"axis":{"values":[-200,0,200,400,600],"title":"Normalized response ΔF/F₀ (a.u.)"}},"color":{"datum":"Fit","scale":{"domain":["Data","Fit","Data ± SD"],"range":["#3d3dff","#ffc83d","#8080ff"]},"legend":{"title":null,"encode":{"symbols":{"update":{"strokeWidth":{"value":5},"opacity":{"value":0.6}}}}}}}},
{"transform":[{"filter":"datum.p==11&&datum.s=='obs'"}],"mark":{"type":"line","strokeWidth":11,"opacity":0.5,"strokeCap":"round","strokeJoin":"round"},"encoding":{"y":{"field":"v","type":"quantitative"},"color":{"datum":"Data ± SD"}}},
{"transform":[{"filter":"datum.p==11&&datum.s=='rise'"}],"mark":{"type":"line","strokeWidth":5,"color":"#d9733a","opacity":0.65,"strokeCap":"round"},"encoding":{"y":{"field":"v","type":"quantitative"}}},
{"transform":[{"filter":"datum.p==11&&datum.s=='obs'"}],"mark":{"type":"line","strokeWidth":1.5,"opacity":0.8},"encoding":{"y":{"field":"v","type":"quantitative"},"color":{"datum":"Data"}}}
]},
{"width":283,"height":100,"encoding":{"x":{"field":"t","type":"quantitative","scale":{"domain":[0,6000],"nice":false,"zero":false},"axis":{"values":[1000,2000,3000,4000,5000,6000],"format":"d","labelAngle":-20,"labelAlign":"right","title":"Time (s)","titleAngle":-35,"titlePadding":-2}}},"layer":[
{"transform":[{"filter":"datum.p==11&&datum.s=='evt'"}],"mark":{"type":"rule","color":"#e6b0e6","strokeDash":[3,3],"strokeWidth":1},"encoding":{"x":{"datum":0},"x2":{"datum":6000},"y":{"datum":0,"type":"quantitative","scale":{"domain":[-125,185],"nice":false,"zero":false}}}},
{"transform":[{"filter":"datum.p==11&&datum.s=='evt'"}],"mark":{"type":"rule","color":"#ff6b6b","strokeDash":[4,3],"strokeWidth":1,"opacity":0.6},"encoding":{}},
{"transform":[{"filter":"datum.p==11&&datum.s=='res'"}],"mark":{"type":"line","strokeWidth":8,"opacity":0.55,"strokeCap":"round","strokeJoin":"round"},"encoding":{"y":{"field":"v","type":"quantitative","scale":{"domain":[-125,185],"nice":false,"zero":false},"axis":{"values":[-100,0,100],"title":null}},"color":{"datum":"Residual","scale":{"domain":["Residual"],"range":["#3fa83f"]},"legend":{"title":null,"encode":{"symbols":{"update":{"strokeWidth":{"value":5},"opacity":{"value":0.6}}}}}}}},
{"transform":[{"filter":"datum.p==11&&datum.s=='res'"}],"mark":{"type":"line","strokeWidth":1.2,"color":"#1e7a1e","opacity":0.6},"encoding":{"y":{"field":"v","type":"quantitative"}}}
]}
],"spacing":14,"resolve":{"scale":{"color":"independent"},"legend":{"color":"independent"}}},
{"vconcat":[
{"width":283,"height":208,"title":"(l) mouse_04_left (S1) | ROI 05 | trial 3 | 4x","encoding":{"x":{"field":"t","type":"quantitative","scale":{"domain":[0,6000],"nice":false,"zero":false},"axis":null}},"layer":[
{"transform":[{"filter":"datum.p==12&&datum.s=='evt'"}],"mark":{"type":"rule","color":"#efe7c6","strokeWidth":1.5},"encoding":{"x":{"datum":0},"x2":{"datum":6000},"y":{"datum":0,"type":"quantitative","scale":{"domain":[-333,600],"nice":false,"zero":false}}}},
{"transform":[{"filter":"datum.p==12&&datum.s=='evt'"}],"mark":{"type":"rule","color":"#ff6b6b","strokeDash":[4,3],"strokeWidth":1,"opacity":0.6},"encoding":{}},
{"transform":[{"filter":"datum.p==12&&datum.s=='fit'"}],"mark":{"type":"line","strokeWidth":7,"opacity":0.5,"strokeCap":"round","strokeJoin":"round"},"encoding":{"y":{"field":"v","type":"quantitative","scale":{"domain":[-333,600],"nice":false,"zero":false},"axis":{"values":[-200,0,200,400,600],"title":"Normalized response ΔF/F₀ (a.u.)"}},"color":{"datum":"Fit","scale":{"domain":["Data","Fit","Data ± SD"],"range":["#3d3dff","#ffc83d","#8080ff"]},"legend":{"title":null,"encode":{"symbols":{"update":{"strokeWidth":{"value":5},"opacity":{"value":0.6}}}}}}}},
{"transform":[{"filter":"datum.p==12&&datum.s=='obs'"}],"mark":{"type":"line","strokeWidth":11,"opacity":0.5,"strokeCap":"round","strokeJoin":"round"},"encoding":{"y":{"field":"v","type":"quantitative"},"color":{"datum":"Data ± SD"}}},
{"transform":[{"filter":"datum.p==12&&datum.s=='rise'"}],"mark":{"type":"line","strokeWidth":5,"color":"#d9733a","opacity":0.65,"strokeCap":"round"},"encoding":{"y":{"field":"v","type":"quantitative"}}},
{"transform":[{"filter":"datum.p==12&&datum.s=='obs'"}],"mark":{"type":"line","strokeWidth":1.5,"opacity":0.8},"encoding":{"y":{"field":"v","type":"quantitative"},"color":{"datum":"Data"}}}
]},
{"width":283,"height":100,"encoding":{"x":{"field":"t","type":"quantitative","scale":{"domain":[0,6000],"nice":false,"zero":false},"axis":{"values":[1000,2000,3000,4000,5000,6000],"format":"d","labelAngle":-20,"labelAlign":"right","title":"Time (s)","titleAngle":-35,"titlePadding":-2}}},"layer":[
{"transform":[{"filter":"datum.p==12&&datum.s=='evt'"}],"mark":{"type":"rule","color":"#e6b0e6","strokeDash":[3,3],"strokeWidth":1},"encoding":{"x":{"datum":0},"x2":{"datum":6000},"y":{"datum":0,"type":"quantitative","scale":{"domain":[-143,209],"nice":false,"zero":false}}}},
{"transform":[{"filter":"datum.p==12&&datum.s=='evt'"}],"mark":{"type":"rule","color":"#ff6b6b","strokeDash":[4,3],"strokeWidth":1,"opacity":0.6},"encoding":{}},
{"transform":[{"filter":"datum.p==12&&datum.s=='res'"}],"mark":{"type":"line","strokeWidth":8,"opacity":0.55,"strokeCap":"round","strokeJoin":"round"},"encoding":{"y":{"field":"v","type":"quantitative","scale":{"domain":[-143,209],"nice":false,"zero":false},"axis":{"values":[-100,0,100],"title":null}},"color":{"datum":"Residual","scale":{"domain":["Residual"],"range":["#3fa83f"]},"legend":{"title":null,"encode":{"symbols":{"update":{"strokeWidth":{"value":5},"opacity":{"value":0.6}}}}}}}},
{"transform":[{"filter":"datum.p==12&&datum.s=='res'"}],"mark":{"type":"line","strokeWidth":1.2,"color":"#1e7a1e","opacity":0.6},"encoding":{"y":{"field":"v","type":"quantitative"}}}
]}
],"spacing":14,"resolve":{"scale":{"color":"independent"},"legend":{"color":"independent"}}}
],"spacing":76,"resolve":{"scale":{"color":"independent"},"legend":{"color":"independent"}}}
]
}
